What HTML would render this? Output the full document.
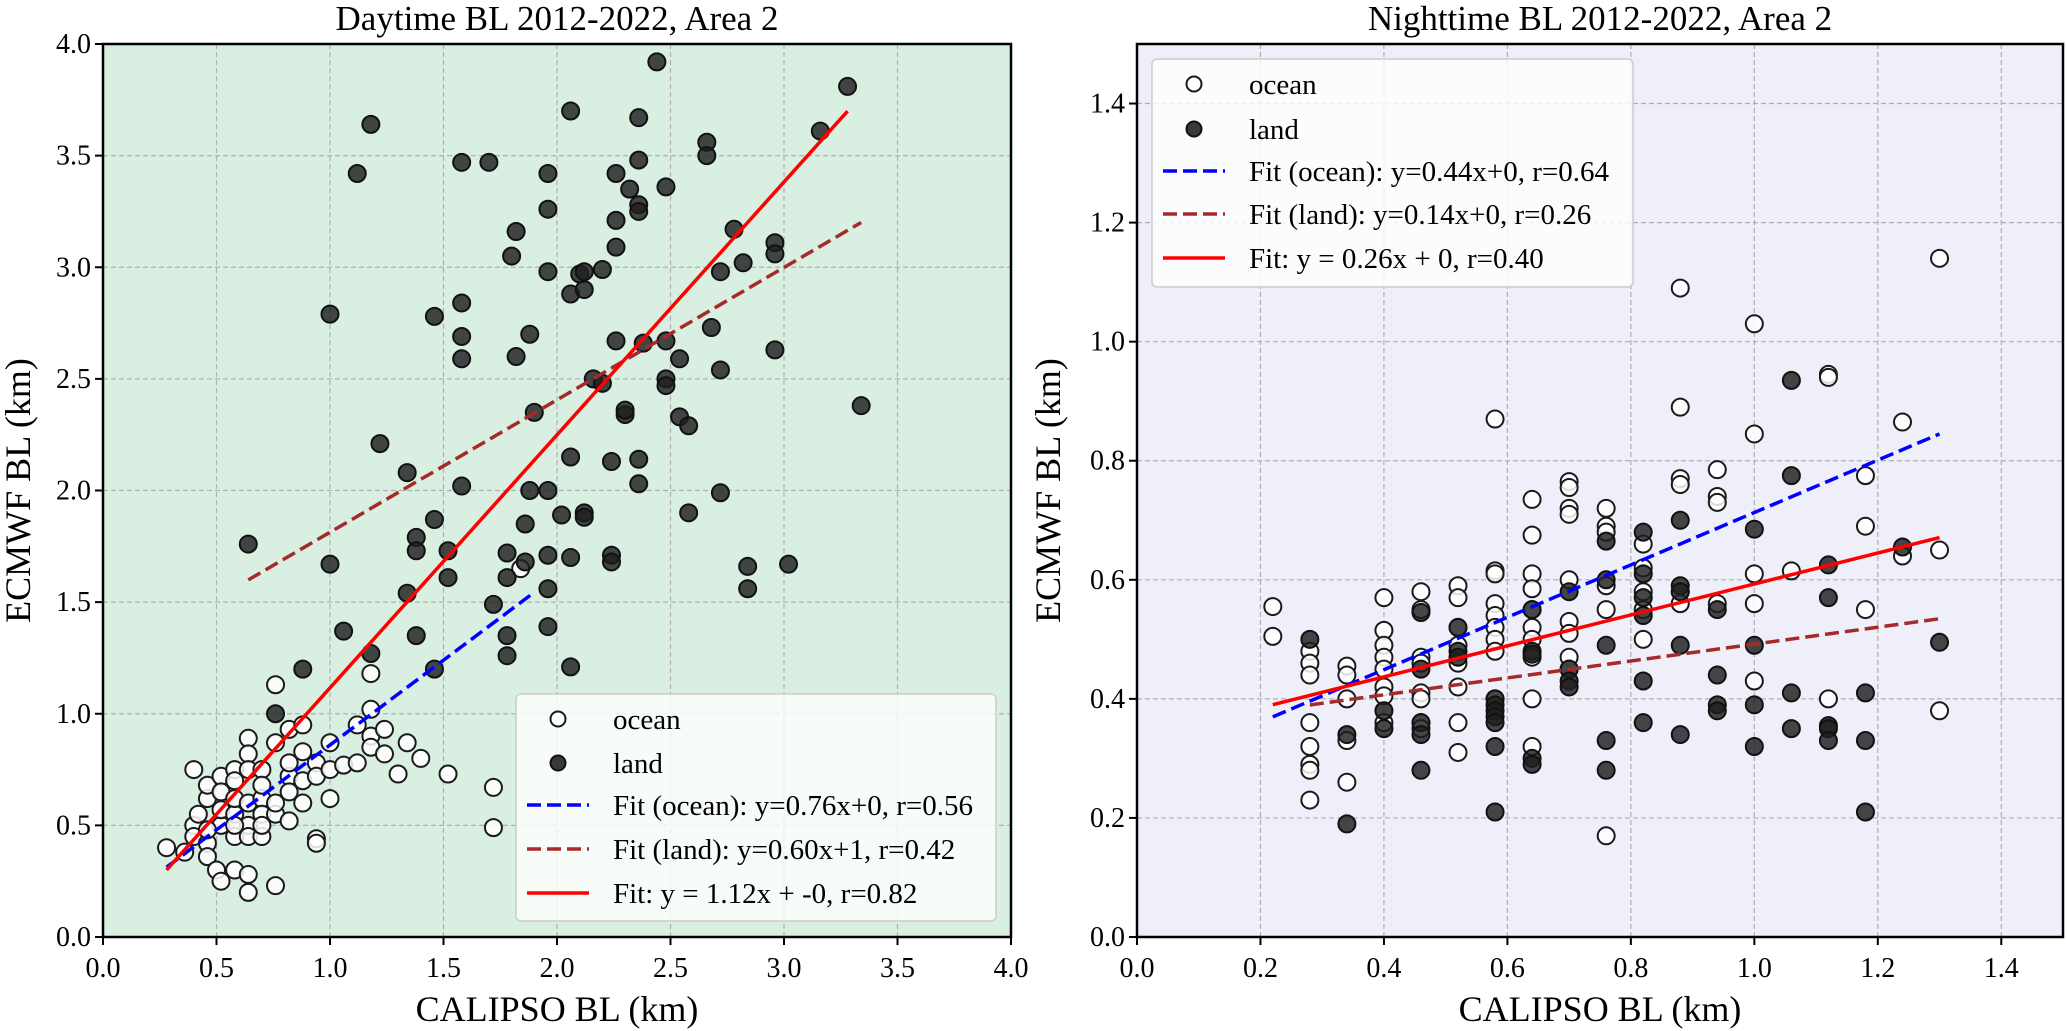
<!DOCTYPE html>
<html><head><meta charset="utf-8">
<style>
html,body{margin:0;padding:0;background:#fff;}
svg{display:block;font-family:"Liberation Serif",serif;}
</style></head>
<body>
<svg id="chart" width="2067" height="1031" viewBox="0 0 2067 1031" xmlns="http://www.w3.org/2000/svg"></svg>
<script>
// ===== Daytime (left) data =====
const dayOceanX = [0.28,0.36,0.4,0.4,0.4,0.42,0.46,0.46,0.46,0.46,0.5,0.52,0.52,0.52,0.52,0.52,0.58,0.58,0.58,0.58,0.58,0.58,0.64,0.64,0.64,0.64,0.64,0.64,0.64,0.64,0.7,0.7,0.7,0.7,0.7,0.7,0.76,0.76,0.76,0.76,0.76,0.82,0.82,0.82,0.82,0.82,0.88,0.88,0.88,0.88,0.94,0.94,0.94,0.94,1.0,1.0,1.0,1.06,1.12,1.12,1.18,1.18,1.18,1.24,1.24,1.3,1.34,1.4,1.52,1.72,1.72,1.84,1.18,0.46,0.58];
const dayOceanY = [0.4,0.38,0.75,0.5,0.45,0.55,0.62,0.68,0.42,0.36,0.3,0.25,0.5,0.57,0.72,0.65,0.3,0.45,0.55,0.62,0.75,0.7,0.89,0.82,0.75,0.5,0.45,0.28,0.2,0.6,0.75,0.62,0.55,0.45,0.5,0.68,1.13,0.55,0.6,0.23,0.87,0.72,0.78,0.93,0.65,0.52,0.83,0.7,0.6,0.95,0.44,0.42,0.78,0.72,0.87,0.75,0.62,0.77,0.95,0.78,1.02,0.9,0.85,0.93,0.82,0.73,0.87,0.8,0.73,0.67,0.49,1.65,1.18,0.48,0.5];
const dayLandX = [0.64,1.0,1.0,1.12,1.18,1.22,1.06,0.88,0.76,1.18,1.34,1.38,1.38,1.34,1.38,1.46,1.46,1.52,1.52,1.58,1.58,1.58,1.58,1.58,1.46,1.7,1.72,1.78,1.78,1.78,1.78,1.8,1.82,1.82,1.88,1.9,1.88,1.86,1.86,1.96,1.96,1.96,1.96,1.96,1.96,1.96,2.02,2.06,2.06,2.06,2.06,2.06,2.1,2.12,2.12,2.12,2.12,2.16,2.2,2.2,2.24,2.24,2.24,2.26,2.26,2.26,2.26,2.32,2.3,2.3,2.36,2.36,2.36,2.36,2.36,2.36,2.38,2.44,2.48,2.48,2.48,2.48,2.54,2.54,2.58,2.58,2.66,2.66,2.68,2.72,2.72,2.72,2.78,2.82,2.84,2.84,2.96,2.96,2.96,3.02,3.16,3.28,3.34];
const dayLandY = [1.76,2.79,1.67,3.42,3.64,2.21,1.37,1.2,1.0,1.27,2.08,1.79,1.73,1.54,1.35,1.87,2.78,1.73,1.61,2.84,2.69,2.59,3.47,2.02,1.2,3.47,1.49,1.72,1.61,1.35,1.26,3.05,2.6,3.16,2.7,2.35,2.0,1.85,1.68,2.0,3.42,3.26,2.98,1.71,1.56,1.39,1.89,3.7,2.88,2.15,1.21,1.7,2.97,2.98,2.9,1.9,1.88,2.5,2.99,2.48,1.71,1.68,2.13,3.42,3.21,3.09,2.67,3.35,2.34,2.36,3.67,3.48,3.28,3.25,2.14,2.03,2.66,3.92,3.36,2.67,2.5,2.47,2.59,2.33,1.9,2.29,3.56,3.5,2.73,2.54,1.99,2.98,3.17,3.02,1.66,1.56,3.11,3.06,2.63,1.67,3.61,3.81,2.38];
const dayFitSlope = [0.76,0.593,1.133];
const dayFitIntercept = [0.1,1.22,-0.017];
const dayFitXmin = [0.28,0.64,0.28];
const dayFitXmax = [1.9,3.34,3.28];
const dayXTicks = [0,0.5,1,1.5,2,2.5,3,3.5,4];
const dayYTicks = [0,0.5,1,1.5,2,2.5,3,3.5,4];
const dayLegend = ["ocean","land","Fit (ocean): y=0.76x+0, r=0.56","Fit (land): y=0.60x+1, r=0.42","Fit: y = 1.12x + -0, r=0.82"];

// ===== Nighttime (right) data =====
const nightOceanX = [0.22,0.22,0.28,0.28,0.28,0.28,0.28,0.28,0.28,0.28,0.34,0.34,0.34,0.34,0.34,0.4,0.4,0.4,0.4,0.4,0.4,0.4,0.4,0.46,0.46,0.46,0.46,0.46,0.46,0.46,0.46,0.52,0.52,0.52,0.52,0.52,0.52,0.52,0.52,0.58,0.58,0.58,0.58,0.58,0.58,0.58,0.58,0.58,0.64,0.64,0.64,0.64,0.64,0.64,0.64,0.64,0.64,0.64,0.7,0.7,0.7,0.7,0.7,0.7,0.7,0.7,0.7,0.76,0.76,0.76,0.76,0.76,0.76,0.82,0.82,0.82,0.82,0.82,0.88,0.88,0.88,0.88,0.88,0.88,0.94,0.94,0.94,0.94,1.0,1.0,1.0,1.0,1.0,1.06,1.12,1.12,1.12,1.18,1.18,1.18,1.24,1.24,1.3,1.3,1.3];
const nightOceanY = [0.555,0.505,0.48,0.46,0.44,0.36,0.32,0.29,0.28,0.23,0.455,0.44,0.40,0.26,0.33,0.57,0.515,0.49,0.47,0.45,0.42,0.405,0.36,0.58,0.55,0.47,0.46,0.41,0.36,0.35,0.4,0.59,0.57,0.52,0.49,0.46,0.42,0.36,0.31,0.87,0.615,0.61,0.56,0.54,0.52,0.5,0.48,0.4,0.735,0.675,0.61,0.585,0.55,0.52,0.5,0.47,0.4,0.32,0.765,0.755,0.72,0.71,0.6,0.53,0.51,0.47,0.45,0.72,0.69,0.68,0.59,0.55,0.17,0.66,0.62,0.58,0.55,0.5,1.09,0.89,0.77,0.76,0.58,0.56,0.785,0.74,0.73,0.56,1.03,0.845,0.61,0.56,0.43,0.615,0.945,0.94,0.40,0.775,0.69,0.55,0.865,0.64,1.14,0.65,0.38];
const nightLandX = [0.28,0.34,0.34,0.4,0.4,0.46,0.46,0.46,0.46,0.46,0.52,0.52,0.52,0.58,0.58,0.58,0.58,0.58,0.58,0.58,0.64,0.64,0.64,0.64,0.64,0.7,0.7,0.7,0.7,0.76,0.76,0.76,0.76,0.76,0.82,0.82,0.82,0.82,0.82,0.82,0.88,0.88,0.88,0.88,0.88,0.94,0.94,0.94,0.94,1.0,1.0,1.0,1.0,1.06,1.06,1.06,1.06,1.12,1.12,1.12,1.12,1.12,1.18,1.18,1.18,1.24,1.3];
const nightLandY = [0.5,0.34,0.19,0.38,0.35,0.545,0.45,0.36,0.34,0.28,0.52,0.48,0.47,0.4,0.39,0.38,0.37,0.36,0.32,0.21,0.55,0.48,0.475,0.3,0.29,0.58,0.45,0.43,0.42,0.665,0.6,0.49,0.33,0.28,0.68,0.61,0.57,0.54,0.43,0.36,0.7,0.59,0.58,0.49,0.34,0.55,0.44,0.39,0.38,0.685,0.49,0.39,0.32,0.935,0.775,0.41,0.35,0.625,0.57,0.355,0.35,0.33,0.41,0.33,0.21,0.655,0.495];
const nightFitSlope = [0.44,0.142,0.26];
const nightFitIntercept = [0.273,0.35,0.333];
const nightFitXmin = [0.22,0.28,0.22];
const nightFitXmax = [1.3,1.3,1.3];
const nightXTicks = [0,0.2,0.4,0.6,0.8,1.0,1.2,1.4];
const nightYTicks = [0,0.2,0.4,0.6,0.8,1.0,1.2,1.4];
const nightLegend = ["ocean","land","Fit (ocean): y=0.44x+0, r=0.64","Fit (land): y=0.14x+0, r=0.26","Fit: y = 0.26x + 0, r=0.40"];

const NS = "http://www.w3.org/2000/svg";
const svg = document.getElementById('chart');
function mk(tag, attrs, parent){
  const e = document.createElementNS(NS, tag);
  for (const k in attrs) e.setAttribute(k, attrs[k]);
  (parent||svg).appendChild(e);
  return e;
}

function drawPanel(p){
  const g = mk('g', {});
  
  
  const sx = v => p.x0 + (v - p.xmin) / (p.xmax - p.xmin) * (p.x1 - p.x0);
  const sy = v => p.y0 - (v - p.ymin) / (p.ymax - p.ymin) * (p.y0 - p.y1);
  const bg = mk('rect', {x:p.x0, y:p.y1, width:p.x1-p.x0, height:p.y0-p.y1, fill:p.bg}, g);
  
  
  // grid
  p.xt.forEach(t => {
    const l = mk('line', {x1:sx(t), x2:sx(t), y1:p.y1, y2:p.y0, stroke:'#b0b0b0', 'stroke-width':1.2, 'stroke-dasharray':'5,3'}, g);
    
    
  });
  p.yt.forEach(t => {
    const l = mk('line', {x1:p.x0, x2:p.x1, y1:sy(t), y2:sy(t), stroke:'#b0b0b0', 'stroke-width':1.2, 'stroke-dasharray':'5,3'}, g);
    
    
  });
  // points
  for (let i=0;i<p.ox.length;i++){
    const c = mk('circle', {cx:sx(p.ox[i]), cy:sy(p.oy[i]), r:8.5, fill:'rgba(255,255,255,0.85)', stroke:'#1a1a1a', 'stroke-width':2}, g);
    
    
  }
  for (let i=0;i<p.lx.length;i++){
    const c = mk('circle', {cx:sx(p.lx[i]), cy:sy(p.ly[i]), r:8.5, fill:'rgba(30,30,30,0.82)', stroke:'#111', 'stroke-width':2}, g);
    
    
  }
  // fits
  const fitStyle = [
    {stroke:'#0000ff', dash:'14,6', name:'fit-ocean-line'},
    {stroke:'#a52a2a', dash:'14,6', name:'fit-land-line'},
    {stroke:'#ff0000', dash:'', name:'fit-all-line'}];
  for (let i=0;i<3;i++){
    const xa = p.fxmin[i], xb = p.fxmax[i];
    const l = mk('line', {x1:sx(xa), y1:sy(p.fs[i]*xa+p.fi[i]), x2:sx(xb), y2:sy(p.fs[i]*xb+p.fi[i]), stroke:fitStyle[i].stroke, 'stroke-width':3.5}, g);
    if (fitStyle[i].dash) l.setAttribute('stroke-dasharray', fitStyle[i].dash);
    
    
  }
  // frame
  const fr = mk('rect', {x:p.x0, y:p.y1, width:p.x1-p.x0, height:p.y0-p.y1, fill:'none', stroke:'#000', 'stroke-width':2.5}, g);
  
  
  // ticks
  p.xt.forEach(t => {
    mk('line', {x1:sx(t), x2:sx(t), y1:p.y0, y2:p.y0+8, stroke:'#000', 'stroke-width':2}, g);
    const tx = mk('text', {x:sx(t), y:p.y0+40, 'text-anchor':'middle', 'font-size':28, fill:'#000'}, g);
    tx.textContent = t.toFixed(1);
    
    
  });
  p.yt.forEach(t => {
    mk('line', {x1:p.x0-8, x2:p.x0, y1:sy(t), y2:sy(t), stroke:'#000', 'stroke-width':2}, g);
    const tx = mk('text', {x:p.x0-12, y:sy(t)+9, 'text-anchor':'end', 'font-size':28, fill:'#000'}, g);
    tx.textContent = t.toFixed(1);
    
    
  });
  // titles
  const cx = (p.x0+p.x1)/2;
  const ti = mk('text', {x:cx, y:30, 'text-anchor':'middle', 'font-size':35, fill:'#000'}, g);
  ti.textContent = p.title;
  
  
  const xl = mk('text', {x:cx, y:1021, 'text-anchor':'middle', 'font-size':36, fill:'#000'}, g);
  xl.textContent = 'CALIPSO BL (km)';
  
  
  const cy = (p.y0+p.y1)/2;
  const yl = mk('text', {x:p.ylx, y:cy, 'text-anchor':'middle', 'font-size':36, fill:'#000', transform:`rotate(-90 ${p.ylx} ${cy})`}, g);
  yl.textContent = 'ECMWF BL (km)';
  
  
  // legend
  const L = p.leg;
  const lg = mk('g', {}, g);
  
  
  mk('rect', {x:L.x, y:L.y, width:L.w, height:L.h, rx:5, fill:'rgba(255,255,255,0.8)', stroke:'#cccccc', 'stroke-width':1.5}, lg);
  for (let i=0;i<5;i++){
    const ry = L.y + L.rows[i];
    if (i===0){ const m = mk('circle', {cx:L.x+42, cy:ry, r:7.5, fill:'#fff', stroke:'#1a1a1a', 'stroke-width':2}, lg);   }
    else if (i===1){ const m = mk('circle', {cx:L.x+42, cy:ry, r:7.5, fill:'#3a3a3a', stroke:'#111', 'stroke-width':2}, lg);   }
    else {
      const st = fitStyle[i-2];
      const m = mk('line', {x1:L.x+11, x2:L.x+73, y1:ry, y2:ry, stroke:st.stroke, 'stroke-width':3.5}, lg);
      if (st.dash) m.setAttribute('stroke-dasharray', '14,6');
      
      
    }
    const t = mk('text', {x:L.x+97, y:ry+10, 'font-size':29, fill:'#000'}, lg);
    t.textContent = p.legText[i];
    
    
  }
}

drawPanel({name:'daytime-panel', x0:103, x1:1011, y0:937, y1:44, xmin:0, xmax:4, ymin:0, ymax:4, bg:'#d9efe2',
  ox:dayOceanX, oy:dayOceanY, lx:dayLandX, ly:dayLandY, fs:dayFitSlope, fi:dayFitIntercept, fxmin:dayFitXmin, fxmax:dayFitXmax,
  xt:dayXTicks, yt:dayYTicks, title:'Daytime BL 2012-2022, Area 2', ylx:30,
  leg:{x:516, y:694, w:480, h:227, rows:[25,69,111,155,199]}, legText:dayLegend});
drawPanel({name:'nighttime-panel', x0:1137, x1:2063, y0:937, y1:44, xmin:0, xmax:1.5, ymin:0, ymax:1.5, bg:'#efeffa',
  ox:nightOceanX, oy:nightOceanY, lx:nightLandX, ly:nightLandY, fs:nightFitSlope, fi:nightFitIntercept, fxmin:nightFitXmin, fxmax:nightFitXmax,
  xt:nightXTicks, yt:nightYTicks, title:'Nighttime BL 2012-2022, Area 2', ylx:1060,
  leg:{x:1152, y:59, w:481, h:228, rows:[25,70,112,155,199]}, legText:nightLegend});
</script>
</body></html>
